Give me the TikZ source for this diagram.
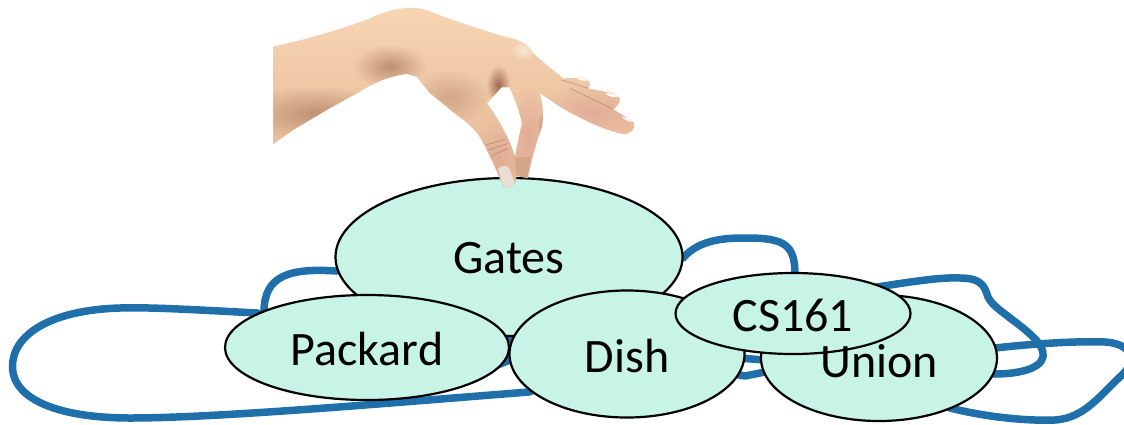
\documentclass[tikz,border=0pt]{standalone}
\usepackage{fontspec}
\setmainfont{Carlito}
\usetikzlibrary{backgrounds,shapes.geometric,fadings}
\definecolor{mint}{RGB}{199,244,230}
\definecolor{edgeblue}{RGB}{31,112,170}
\definecolor{skinlight}{RGB}{248,214,180}
\definecolor{skinmid}{RGB}{226,180,146}
\definecolor{skindark}{RGB}{150,95,70}
\definecolor{skinpink}{RGB}{224,170,150}
\definecolor{nailc}{RGB}{232,222,214}
\tikzfading[name=softspot,inner color=transparent!0,outer color=transparent!100]
\tikzset{
  place/.style={draw=black,line width=2.2pt,fill=mint,shape=ellipse,inner sep=0pt},
  placetext/.style={font=\fontsize{48}{48}\selectfont,inner sep=0pt},
  edgeline/.style={draw=edgeblue,line width=7.5pt,line cap=round,line join=round},
  soft/.style={path fading=softspot,fill=#1},
}
\begin{document}
\begin{tikzpicture}[x=1pt,y=-1pt]
\useasboundingbox (0,0) rectangle (1124,424);
\clip (0,0) rectangle (1124,424);
\node[place,minimum width=347pt,minimum height=158pt] (gates) at (509,257) {};
\node[place,minimum width=284pt,minimum height=105pt] (packard) at (367,347.5) {};
\node[place,minimum width=235pt,minimum height=127pt] (dish) at (627,354) {};
\node[place,minimum width=236pt,minimum height=126pt] (union) at (879,358) {};
\node[place,minimum width=235pt,minimum height=81pt] (cs) at (793,313.5) {};
\node[placetext] (gatest) at (509,258) {Gates};
\node[placetext] (packardt) at (367,349) {Packard};
\node[placetext] (disht) at (627,356) {Dish};
\node[placetext] (uniont) at (879,361) {Union};
\node[placetext] (cst) at (793,315) {CS161};
\begin{scope}[on background layer]
\draw[edgeline] (gates.center) -- (337,271) .. controls (290,268) and (264,275) .. (264,312) -- (packard.center);
\draw[edgeline] (packard.center) -- (257,313) .. controls (200,310) and (150,307) .. (120,308) .. controls (50,310) and (12,335) .. (12.5,367) .. controls (13,400) and (60,418) .. (130,418) .. controls (220,418) and (400,402) .. (529,392) -- (dish.center);
\draw[edgeline] (packard.center) -- (495,366) -- (515,358) -- (dish.center);
\draw[edgeline] (packard.center) -- (505,339) -- (520,339) -- (dish.center);
\draw[edgeline] (gates.center) -- (683,258) .. controls (700,238) and (730,238) .. (747,238) .. controls (785,238) and (795,245) .. (795,275) -- (cs.center);
\draw[edgeline] (cs.center) -- (877,287) .. controls (910,282) and (940,277) .. (960,278) .. controls (985,278) and (985,290) .. (988,297) .. controls (992,305) and (1000,310) .. (1010,318) .. controls (1030,333) and (1045,345) .. (1043,357) .. controls (1040,370) and (1015,374) .. (995,374) -- (union.center);
\draw[edgeline] (union.center) -- (995,348) .. controls (1040,343) and (1080,341) .. (1105,342) .. controls (1125,343) and (1140,355) .. (1124,373) .. controls (1100,395) and (1085,418) .. (1055,420) .. controls (1030,421) and (990,418) .. (950,408) -- (union.center);
\draw[edgeline] (dish.center) -- (745,358.5) -- (765,360) -- (union.center);
\draw[edgeline] (dish.center) -- (745,376) -- (765,372) -- (union.center);
\end{scope}
% hand, drawn over the nodes
\begin{scope}[xshift=260pt,x=0.3333pt,y=-0.3333pt]
\begin{scope}
\clip (40,140) .. controls (130,120) and (240,90) .. (330,55)
 .. controls (390,28) and (440,15) .. (500,30)
 .. controls (560,55) and (650,85) .. (740,112)
 .. controls (790,120) and (810,140) .. (820,160)
 -- (860,195) -- (910,235) -- (970,233) .. controls (990,235) and (995,255) .. (985,265)
 -- (1050,278) .. controls (1085,283) and (1090,305) .. (1060,328)
 -- (1120,365) .. controls (1130,385) and (1115,402) .. (1090,402)
 .. controls (1040,395) and (950,350) .. (900,320) -- (840,280)
 .. controls (855,340) and (850,380) .. (835,410) -- (818,470) -- (803,535) -- (770,528)
 .. controls (768,560) and (745,572) .. (730,560) -- (700,490) -- (670,430)
 .. controls (640,370) and (590,350) .. (560,320) -- (510,280) -- (470,230) -- (440,222)
 .. controls (380,230) and (340,250) .. (300,275) -- (200,330) -- (100,390) -- (40,432) -- cycle;
\shade[top color=skinlight,bottom color=skinmid] (0,0) rectangle (1200,600);
% darker underside of the forearm and wrist
\fill[soft=skindark,opacity=.5] (170,340) circle[x radius=240,y radius=80];
\fill[soft=skindark,opacity=.55] (390,200) circle[x radius=110,y radius=65];
\fill[soft=skindark,opacity=.3] (570,290) circle[x radius=120,y radius=80];
% pink fingers
\fill[soft=skinpink,opacity=.9] (715,470) circle[x radius=70,y radius=110];
\fill[soft=skinpink,opacity=.9] (805,410) circle[x radius=60,y radius=150];
\fill[soft=skinpink,opacity=.9] (1000,335) circle[x radius=170,y radius=85];
% creases
\fill[soft=skindark,opacity=.9] (715,255) circle[x radius=35,y radius=60];
\fill[soft=white,opacity=.55] (790,150) circle[x radius=38,y radius=32];
\fill[soft=skindark,opacity=.35] (845,375) circle[x radius=14,y radius=40];
\draw[skindark,line width=.7pt,opacity=.45] (678,435) -- (735,418) (685,450) -- (745,430) (695,468) -- (745,445);
\draw[skindark,line width=.7pt,opacity=.45] (930,265) -- (1060,328) (905,240) -- (985,265);
% nails and tips
\fill[nailc] (715,505) .. controls (730,495) and (745,495) .. (750,510) -- (763,545) .. controls (760,570) and (735,572) .. (728,556) -- cycle;
\fill[skindark,opacity=.18] (765,475) -- (812,470) -- (803,535) -- (770,528) -- cycle;
\fill[white!92!skinpink] (950,236) .. controls (965,232) and (985,232) .. (987,240) .. controls (975,245) and (960,242) .. (950,236) -- cycle;
\fill[white!92!skinpink] (1035,280) .. controls (1050,278) and (1075,282) .. (1080,290) .. controls (1060,294) and (1045,290) .. (1035,280) -- cycle;
\fill[white!92!skinpink] (1085,350) .. controls (1100,352) and (1115,358) .. (1122,366) .. controls (1105,366) and (1095,360) .. (1085,350) -- cycle;
\end{scope}
\fill[white] (765,470) .. controls (772,430) and (780,395) .. (785,370) .. controls (780,340) and (765,300) .. (748,262) -- (725,262) -- (682,310)
 .. controls (715,355) and (752,420) .. (765,470) -- cycle;
\end{scope}
\end{tikzpicture}
\end{document}
